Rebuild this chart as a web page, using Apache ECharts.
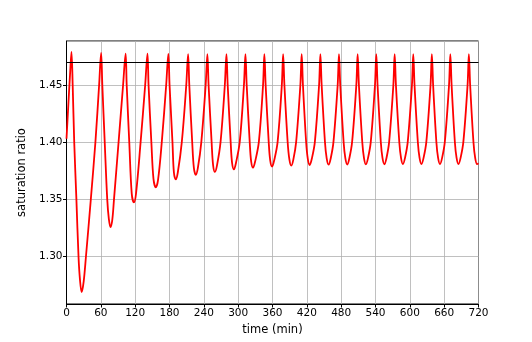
<!DOCTYPE html>
<html>
<head>
<meta charset="utf-8">
<script src="https://cdn.jsdelivr.net/npm/echarts@6/dist/echarts.min.js"></script>
<style>
  html, body { margin: 0; padding: 0; background: #fff; }
  #main { width: 532px; height: 342px; }
</style>
</head>
<body>
<div id="main"></div>
<script>
// time (min) and saturation ratio
var timeMin = [
  0, 4, 6.5, 8.7, 10.8, 13.5, 17.3, 21, 23.5, 26.5, 30, 34, 42.5, 50.5, 57,
  60.5, 62.6, 66.8, 71.2, 74, 77, 80, 83, 91, 98.9,
  103.3, 105.2, 109.7, 114, 117.8, 121.5, 129.5, 137.5,
  141.5, 143.4, 148.3, 152, 156, 160, 166.5, 174.2,
  178, 180.1, 185.2, 187.7, 191, 194.5, 201.5, 209.3,
  212.5, 214.6, 219.7, 222.6, 226, 229.6, 235.6, 243.2,
  246.2, 248.3, 253.6, 256.2, 259.4, 263.1, 269.2, 276.7,
  279.5, 281.7, 286.9, 289.3, 292.6, 296.3, 302.7, 310.1,
  312.7, 314.9, 320.2, 322.7, 326, 329.7, 336.1, 343.5,
  345.8, 348, 353.4, 356, 359.3, 363, 368.9, 376.3,
  378.6, 380.8, 386.5, 389.5, 392.8, 396.5, 401.3, 408.7,
  411, 413.2, 418.8, 421.7, 425, 428.7, 434, 441.4,
  443.7, 445.9, 451.7, 454.7, 458, 461.7, 466.5, 473.9,
  476.2, 478.4, 484.3, 487.3, 490.6, 494.3, 499.1, 506.5,
  508.8, 511, 516.9, 519.9, 523.2, 526.9, 531.7, 539.1,
  541.4, 543.6, 549.3, 552.2, 555.5, 559.2, 563.8, 571.2,
  573.5, 575.7, 581.6, 584.6, 587.9, 591.6, 596.3, 603.7,
  606, 608.2, 614, 617, 620.3, 624, 628.8, 636.2,
  638.5, 640.7, 646.4, 649.4, 652.7, 656.4, 661.1, 668.5,
  670.8, 673, 678.7, 681.7, 685, 688.7, 693.5, 700.9,
  703.2, 705.4, 711.2, 714.2, 717.5, 720
];
var satRatio = [
  1.403, 1.440, 1.462, 1.479, 1.450, 1.400, 1.350, 1.300, 1.280, 1.2688, 1.278, 1.300, 1.350, 1.400, 1.450,
  1.478, 1.450, 1.400, 1.350, 1.333, 1.3258, 1.332, 1.350, 1.400, 1.450,
  1.4775, 1.450, 1.400, 1.355, 1.3474, 1.355, 1.400, 1.450,
  1.4775, 1.450, 1.400, 1.368, 1.3605, 1.367, 1.400, 1.450,
  1.4772, 1.450, 1.400, 1.3735, 1.3675, 1.3735, 1.400, 1.450,
  1.4771, 1.450, 1.400, 1.3775, 1.3715, 1.3775, 1.400, 1.450,
  1.477, 1.450, 1.400, 1.380, 1.374, 1.380, 1.400, 1.450,
  1.477, 1.450, 1.400, 1.3822, 1.3762, 1.3822, 1.400, 1.450,
  1.477, 1.450, 1.400, 1.3832, 1.3777, 1.3832, 1.400, 1.450,
  1.477, 1.450, 1.400, 1.3842, 1.3787, 1.3842, 1.400, 1.450,
  1.477, 1.450, 1.400, 1.385, 1.3795, 1.385, 1.400, 1.450,
  1.477, 1.450, 1.400, 1.3855, 1.380, 1.3855, 1.400, 1.450,
  1.477, 1.450, 1.400, 1.3858, 1.3803, 1.3858, 1.400, 1.450,
  1.477, 1.450, 1.400, 1.386, 1.3805, 1.386, 1.400, 1.450,
  1.477, 1.450, 1.400, 1.3861, 1.3806, 1.3861, 1.400, 1.450,
  1.477, 1.450, 1.400, 1.3862, 1.3807, 1.3862, 1.400, 1.450,
  1.477, 1.450, 1.400, 1.3863, 1.3808, 1.3863, 1.400, 1.450,
  1.477, 1.450, 1.400, 1.3863, 1.3808, 1.3863, 1.400, 1.450,
  1.477, 1.450, 1.400, 1.3863, 1.3808, 1.3863, 1.400, 1.450,
  1.477, 1.450, 1.400, 1.3863, 1.3808, 1.3863, 1.400, 1.450,
  1.477, 1.450, 1.400, 1.3863, 1.3808, 1.3815
];
var thresholdRatio = 1.468;
var xTicks = [0, 60, 120, 180, 240, 300, 360, 420, 480, 540, 600, 660, 720];

window.onload = function () {
  var chartDom = document.getElementById('main');
  var myChart = echarts.init(chartDom, null, { renderer: 'canvas' });

  var points = [];
  for (var i = 0; i < timeMin.length; i++) {
    points.push([timeMin[i], satRatio[i]]);
  }

  var tickFont = { fontFamily: 'DejaVu Sans', fontSize: 10.5, color: '#000' };

  var option = {
    animation: false,
    backgroundColor: '#fff',
    grid: {
      left: 66.5,
      right: 53.5,
      top: 41,
      bottom: 38,
      show: true,
      borderColor: '#000',
      borderWidth: 1,
      backgroundColor: 'transparent'
    },
    xAxis: {
      type: 'value',
      min: xTicks[0],
      max: xTicks[xTicks.length - 1],
      interval: 60,
      name: 'time (min)',
      nameLocation: 'middle',
      nameGap: 20,
      nameTextStyle: { fontFamily: 'DejaVu Sans', fontSize: 11.5, color: '#000' },
      axisLine: { lineStyle: { color: '#000', width: 1 } },
      axisTick: { show: true, inside: false, length: 3.5, lineStyle: { color: '#000' } },
      axisLabel: Object.assign({ margin: 4 }, tickFont),
      splitLine: { show: true, lineStyle: { color: '#b0b0b0', width: 0.8 } }
    },
    yAxis: {
      type: 'value',
      min: 1.2585,
      max: 1.4885,
      splitNumber: 5,
      name: 'saturation ratio',
      nameLocation: 'middle',
      nameGap: 36,
      nameTextStyle: { fontFamily: 'DejaVu Sans', fontSize: 11.5, color: '#000' },
      axisLine: { show: true, lineStyle: { color: '#000', width: 1 } },
      axisTick: { show: true, inside: false, length: 3.5, lineStyle: { color: '#000' } },
      axisLabel: Object.assign({
        margin: 4,
        showMinLabel: false,
        showMaxLabel: false,
        formatter: function (v) { return v.toFixed(2); }
      }, tickFont),
      splitLine: { show: true, lineStyle: { color: '#b0b0b0', width: 0.8 } }
    },
    series: [
      {
        name: 'saturation ratio',
        type: 'line',
        data: points,
        showSymbol: false,
        smooth: 0.35,
        lineStyle: { color: '#ff0000', width: 1.8 },
        z: 3,
        markLine: {
          silent: true,
          symbol: ['none', 'none'],
          label: { show: false },
          lineStyle: { color: '#000', width: 1, type: 'solid' },
          data: [{ yAxis: thresholdRatio }]
        }
      }
    ]
  };
  option && myChart.setOption(option);
};
</script>
</body>
</html>
